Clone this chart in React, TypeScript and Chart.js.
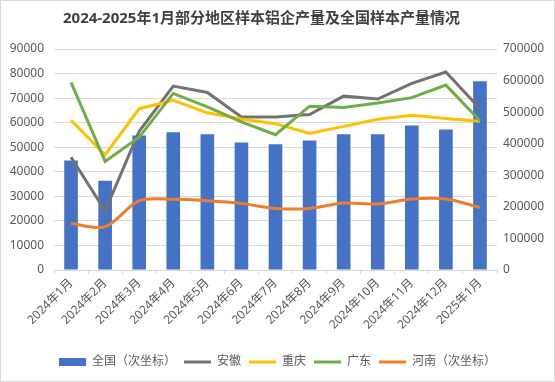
import React, { useEffect, useRef } from "react";
import { Chart, registerables } from "chart.js";

Chart.register(...registerables);

const categories = [
  "2024年1月", "2024年2月", "2024年3月", "2024年4月", "2024年5月", "2024年6月", "2024年7月",
  "2024年8月", "2024年9月", "2024年10月", "2024年11月", "2024年12月", "2025年1月",
];
const national = [347000, 283000, 426000, 436000, 430000, 404000, 398000, 410000, 430000, 430000, 458000, 445000, 598000];
const anhui = [45900, 24100, 56500, 74900, 72300, 62300, 62300, 63300, 70800, 69600, 76000, 80600, 65700];
const chongqing = [61000, 46900, 65700, 69100, 64000, 61500, 59600, 55600, 58500, 61400, 63000, 61700, 60600];
const guangdong = [76400, 44200, 54100, 71900, 66400, 60300, 55100, 66700, 66200, 68000, 70200, 75300, 60800];
const henan = [147000, 137000, 219500, 224000, 219500, 211000, 195000, 195000, 212000, 209000, 225000, 225000, 198000];

const FONT = '"Noto Sans", "Noto Sans CJK SC", sans-serif';
const TEXT = "#595959";
const GRID = "#d9d9d9";

const bgPlugin = {
  id: "bgBorder",
  beforeDraw(chart: any) {
    const c = chart.ctx;
    c.save();
    c.fillStyle = "#ffffff";
    c.fillRect(0, 0, chart.width, chart.height);
    c.restore();
  },
  afterLayout(chart: any) {
    // Excel places the title slightly left of centre
    if (chart.titleBlock) {
      chart.titleBlock.left = 0;
      chart.titleBlock.right = chart.width - 32;
    }
  },
  afterDraw(chart: any) {
    const c = chart.ctx;
    c.save();
    c.strokeStyle = GRID;
    c.lineWidth = 1;
    c.strokeRect(0.5, 0.5, chart.width - 1, chart.height - 1);
    c.restore();
  },
};

export default function App() {
  const ref = useRef<HTMLCanvasElement | null>(null);
  useEffect(() => {
    if (!ref.current) return;
    const lineDs = (label: string, data: number[], color: string, order: number, axis: string, tension = 0) => ({
      type: "line" as const,
      label,
      data,
      borderColor: color,
      backgroundColor: color,
      borderWidth: 3,
      pointRadius: 0,
      tension,
      yAxisID: axis,
      order,
    });
    const chart = new Chart(ref.current, {
      type: "bar",
      data: {
        labels: categories,
        datasets: [
          {
            type: "bar",
            label: "全国（次坐标）",
            data: national,
            backgroundColor: "#4472C4",
            yAxisID: "y1",
            barPercentage: 0.4,
            categoryPercentage: 1,
            order: 10,
          } as any,
          lineDs("安徽", anhui, "#767171", 4, "y"),
          lineDs("重庆", chongqing, "#FFC000", 3, "y"),
          lineDs("广东", guangdong, "#70AD47", 2, "y"),
          lineDs("河南（次坐标）", henan, "#ED7D31", 1, "y1", 0.3),
        ],
      },
      options: {
        animation: false,
        responsive: true,
        maintainAspectRatio: false,
        layout: { padding: { top: 0, left: 0, right: 0, bottom: 4 } },
        plugins: {
          tooltip: { enabled: false },
          title: {
            display: true,
            text: "2024-2025年1月部分地区样本铝企产量及全国样本产量情况",
            color: "#404040",
            font: { family: FONT, size: 15, weight: "bold" },
            padding: { top: 10, bottom: 21 },
          },
          legend: {
            position: "bottom",
            labels: {
              color: TEXT,
              font: { family: FONT, size: 12 },
              padding: 8,
              boxHeight: 8,
              boxWidth: 27,
              usePointStyle: true,
              pointStyleWidth: 27,
              generateLabels: (ch: any) =>
                ch.data.datasets.map((d: any, i: number) => ({
                  text: d.label,
                  fillStyle: d.backgroundColor,
                  strokeStyle: d.type === "bar" ? d.backgroundColor : d.borderColor,
                  lineWidth: d.type === "bar" ? 0 : 3,
                  pointStyle: d.type === "bar" ? "rect" : "line",
                  fontColor: TEXT,
                  hidden: false,
                  datasetIndex: i,
                })),
            },
          },
        },
        scales: {
          x: {
            offset: true,
            grid: {
              display: true,
              drawOnChartArea: false,
              offset: true,
              tickLength: 4,
              color: GRID,
            },
            border: { color: GRID },
            ticks: {
              color: TEXT,
              font: { family: FONT, size: 12 },
              autoSkip: false,
              maxRotation: 45,
              minRotation: 45,
              padding: 2,
            },
            afterFit: (s: any) => {
              s.height = 78;
            },
          },
          y: {
            position: "left",
            min: 0,
            max: 90000,
            ticks: {
              stepSize: 10000,
              color: TEXT,
              font: { family: FONT, size: 12 },
              padding: 10,
              callback: (v: any) => String(v),
            },
            grid: { color: GRID, drawTicks: false },
            border: { display: false },
            afterFit: (s: any) => {
              s.width = 54;
            },
          },
          y1: {
            position: "right",
            min: 0,
            max: 700000,
            ticks: {
              stepSize: 100000,
              color: TEXT,
              font: { family: FONT, size: 12 },
              padding: 6,
              callback: (v: any) => String(v),
            },
            grid: { drawOnChartArea: false, drawTicks: false },
            border: { display: false },
            afterFit: (s: any) => {
              s.width = 58;
            },
          },
        },
      } as any,
      plugins: [bgPlugin],
    });
    return () => chart.destroy();
  }, []);

  return (
    <div style={{ position: "fixed", left: 0, top: 0, width: 555, height: 382 }}>
      <canvas ref={ref} />
    </div>
  );
}
